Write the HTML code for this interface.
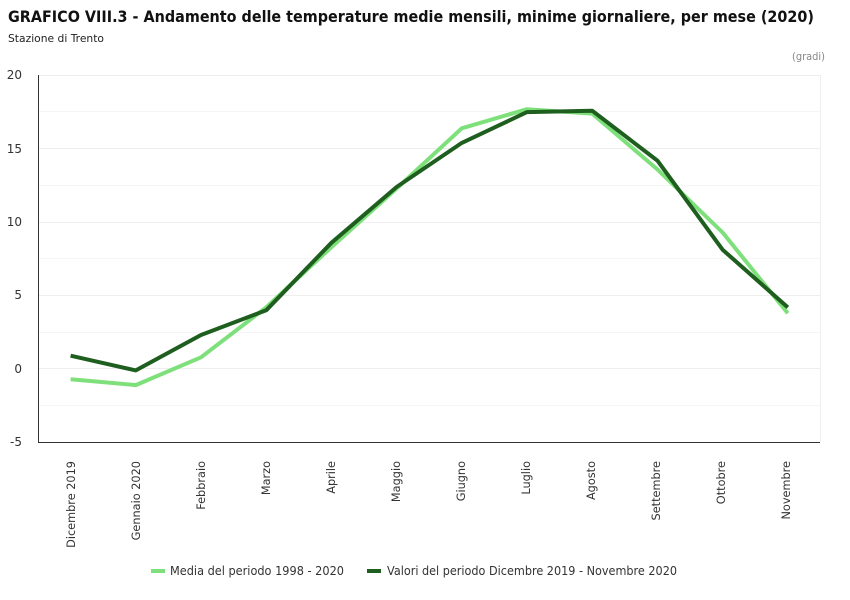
<!DOCTYPE html>
<html><head><meta charset="utf-8"><style>body{margin:0;background:#fff}svg{display:block}</style></head>
<body>
<svg width="850" height="600" xmlns="http://www.w3.org/2000/svg" font-family="DejaVu Sans, sans-serif">
<rect width="850" height="600" fill="#fff"/>
<text x="8" y="22" font-size="16" font-weight="bold" fill="#111" textLength="806" lengthAdjust="spacingAndGlyphs">GRAFICO VIII.3 - Andamento delle temperature medie mensili, minime giornaliere, per mese (2020)</text>
<text x="8" y="42" font-size="11" fill="#222" textLength="96" lengthAdjust="spacingAndGlyphs">Stazione di Trento</text>
<text x="825" y="60" font-size="11" fill="#888" text-anchor="end" textLength="33" lengthAdjust="spacingAndGlyphs">(gradi)</text>
<g stroke="#eee" stroke-width="1">
<line x1="38" x2="820" y1="75.5" y2="75.5"/><line x1="38" x2="820" y1="111.5" y2="111.5" stroke="#f5f5f5"/>
<line x1="38" x2="820" y1="148.5" y2="148.5"/><line x1="38" x2="820" y1="185.5" y2="185.5" stroke="#f5f5f5"/>
<line x1="38" x2="820" y1="222.5" y2="222.5"/><line x1="38" x2="820" y1="258.5" y2="258.5" stroke="#f5f5f5"/>
<line x1="38" x2="820" y1="295.5" y2="295.5"/><line x1="38" x2="820" y1="332.5" y2="332.5" stroke="#f5f5f5"/>
<line x1="38" x2="820" y1="368.5" y2="368.5"/><line x1="38" x2="820" y1="405.5" y2="405.5" stroke="#f5f5f5"/>
<line x1="820.5" x2="820.5" y1="75" y2="442"/>
</g>
<g stroke="#333" stroke-width="1"><line x1="38.5" x2="38.5" y1="75" y2="442"/><line x1="38" x2="820" y1="442.5" y2="442.5"/></g>
<g font-size="12" fill="#333" text-anchor="end">
<text x="22" y="79">20</text><text x="22" y="153">15</text><text x="22" y="226">10</text>
<text x="22" y="299">5</text><text x="22" y="373">0</text><text x="22" y="446">-5</text>
</g>
<g font-size="11.3" fill="#333" text-anchor="end">
<text transform="translate(75,461) rotate(-90)">Dicembre 2019</text>
<text transform="translate(140,461) rotate(-90)">Gennaio 2020</text>
<text transform="translate(205,461) rotate(-90)">Febbraio</text>
<text transform="translate(270,461) rotate(-90)">Marzo</text>
<text transform="translate(335,461) rotate(-90)">Aprile</text>
<text transform="translate(400,461) rotate(-90)">Maggio</text>
<text transform="translate(465,461) rotate(-90)">Giugno</text>
<text transform="translate(530,461) rotate(-90)">Luglio</text>
<text transform="translate(595,461) rotate(-90)">Agosto</text>
<text transform="translate(660,461) rotate(-90)">Settembre</text>
<text transform="translate(725,461) rotate(-90)">Ottobre</text>
<text transform="translate(790,461) rotate(-90)">Novembre</text>
</g>
<polyline fill="none" stroke="#7ee07a" stroke-width="4" stroke-linejoin="round" points="70.6,379.2 135.8,385.1 201,357.3 266.2,307.4 331.4,247.2 396.6,188.5 461.8,128.3 527,109.2 592.2,113.6 657.4,169.4 722.6,232.5 787.8,313.2"/>
<polyline fill="none" stroke="#1e5e1e" stroke-width="4" stroke-linejoin="round" points="70.6,355.7 135.8,370.4 201,335.0 266.2,310.3 331.4,242.8 396.6,187.0 461.8,142.9 527,112.1 592.2,110.7 657.4,160.6 722.6,249.7 787.8,307.4"/>
<line x1="151" x2="165" y1="571" y2="571" stroke="#7ee07a" stroke-width="4"/>
<text x="170" y="575" font-size="12" fill="#333" textLength="174" lengthAdjust="spacingAndGlyphs">Media del periodo 1998 - 2020</text>
<line x1="367" x2="381" y1="571" y2="571" stroke="#1e5e1e" stroke-width="4"/>
<text x="387" y="575" font-size="12" fill="#333" textLength="290" lengthAdjust="spacingAndGlyphs">Valori del periodo Dicembre 2019 - Novembre 2020</text>
</svg>
</body></html>
